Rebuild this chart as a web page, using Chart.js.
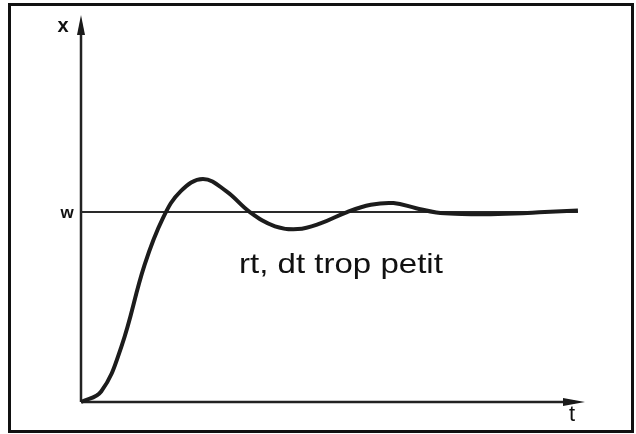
<!DOCTYPE html>
<html>
<head>
<meta charset="utf-8">
<script src="https://cdn.jsdelivr.net/npm/chart.js@4/dist/chart.umd.min.js"></script>
<style>
  html, body { margin: 0; padding: 0; background: #fff; }
  #wrap { width: 636px; height: 434px; }
</style>
</head>
<body>
<div id="wrap"><canvas id="reponse"></canvas></div>
<script>
// réponse indicielle : x(t) autour de la consigne w
const temps   = [0, 4.0, 8.0, 12.6, 16.3, 19.8, 24.2, 28.8, 33.5, 38.5, 43.0, 47.5, 52.8, 57.5, 62.0, 66.5, 70.5, 75.5, 80.0, 86.0, 92.0, 98.6];
const sortieX = [0, 0.055, 0.29, 0.72, 0.97, 1.11, 1.174, 1.11, 1.0, 0.925, 0.91, 0.94, 1.0, 1.038, 1.047, 1.02, 0.998, 0.99, 0.988, 0.992, 1.0, 1.008];
const consigneW = 1;
const finW = 98.6;
const legende = 'rt, dt trop petit';
const nomsAxes = { x: 'x', w: 'w', t: 't' };

const courbe = temps.map((t, i) => ({ x: t, y: sortieX[i] }));
const ligneW = [{ x: 0, y: consigneW }, { x: finW, y: consigneW }];

// axes avec flèches, cadre et textes
const dessin = {
  id: 'dessin',
  beforeDatasetsDraw(chart) {
    const { ctx, chartArea: a } = chart;
    ctx.save();
    ctx.strokeStyle = '#111';
    ctx.lineWidth = 3;
    ctx.strokeRect(9.5, 4.5, 623, 427);

    ctx.strokeStyle = '#222';
    ctx.lineWidth = 2.5;
    ctx.beginPath();
    ctx.moveTo(a.left, a.bottom);
    ctx.lineTo(a.left, a.top + 10);
    ctx.moveTo(a.left, a.bottom);
    ctx.lineTo(a.right - 10, a.bottom);
    ctx.stroke();

    ctx.fillStyle = '#1a1a1a';
    ctx.beginPath();
    ctx.moveTo(a.left, a.top);
    ctx.lineTo(a.left + 4, a.top + 20);
    ctx.lineTo(a.left - 4, a.top + 20);
    ctx.closePath();
    ctx.fill();
    ctx.beginPath();
    ctx.moveTo(a.right, a.bottom);
    ctx.lineTo(a.right - 22, a.bottom + 4);
    ctx.lineTo(a.right - 22, a.bottom - 4);
    ctx.closePath();
    ctx.fill();
    ctx.restore();
  },
  afterDraw(chart) {
    const { ctx, chartArea: a, scales } = chart;
    ctx.save();
    ctx.fillStyle = '#111';
    ctx.textAlign = 'center';
    ctx.textBaseline = 'alphabetic';
    ctx.font = 'bold 20px "Liberation Sans", Arial, sans-serif';
    ctx.fillText(nomsAxes.x, a.left - 18, a.top + 17);
    ctx.font = 'bold 17px "Liberation Sans", Arial, sans-serif';
    ctx.fillText(nomsAxes.w, a.left - 14, scales.y.getPixelForValue(consigneW) + 6);
    ctx.font = '22px "Liberation Sans", Arial, sans-serif';
    ctx.fillText(nomsAxes.t, a.right - 13, a.bottom + 19);

    ctx.translate(239, 273);
    ctx.scale(1.18, 1);
    ctx.textAlign = 'left';
    ctx.font = '28px "Liberation Sans", Arial, sans-serif';
    ctx.fillText(legende, 0, 0);
    ctx.restore();
  }
};

new Chart(document.getElementById('reponse'), {
  type: 'line',
  data: {
    datasets: [
      {
        data: courbe,
        borderColor: '#1c1c1c',
        borderWidth: 4,
        pointRadius: 0,
        tension: 0.4,
        clip: false
      },
      {
        data: ligneW,
        borderColor: '#2a2a2a',
        borderWidth: 2,
        pointRadius: 0
      }
    ]
  },
  options: {
    responsive: true,
    maintainAspectRatio: false,
    animation: false,
    layout: { padding: { left: 81, top: 15, right: 51, bottom: 32 } },
    plugins: { legend: { display: false }, tooltip: { enabled: false } },
    scales: {
      x: { type: 'linear', min: 0, max: 100, display: false },
      y: { min: 0, max: 2.037, display: false }
    }
  },
  plugins: [dessin]
});
</script>
</body>
</html>
